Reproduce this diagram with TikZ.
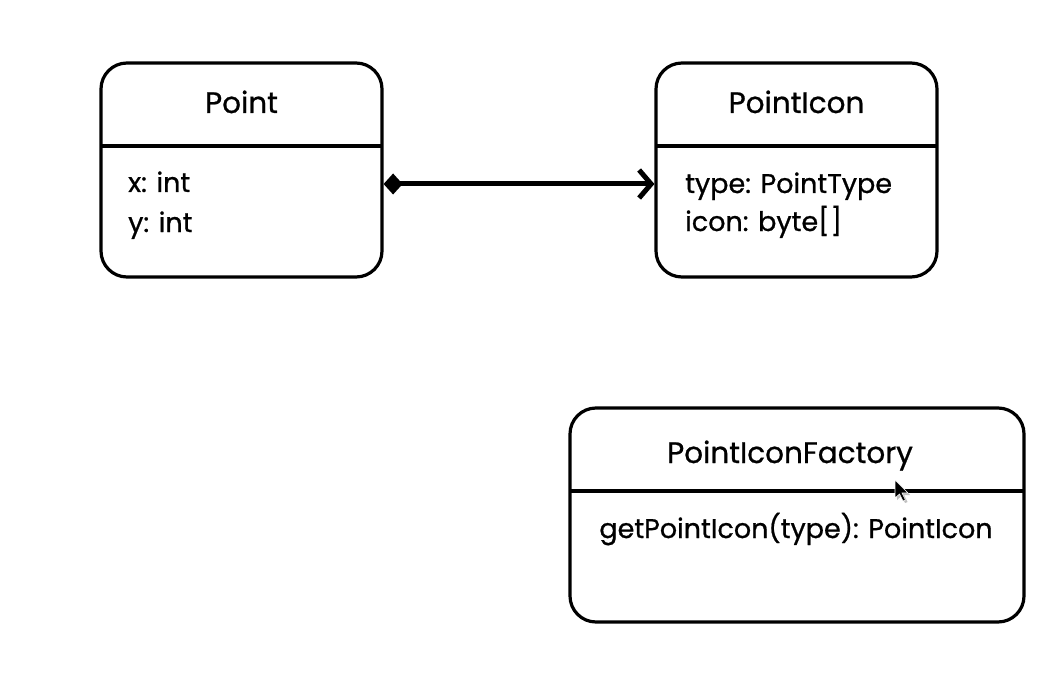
\documentclass[tikz,border=0pt]{standalone}
\usepackage{fontspec}
\setmainfont{Poppins}[BoldFont=Poppins, BoldFeatures={FakeBold=0.8}]
\usetikzlibrary{arrows.meta}
\begin{document}
\begin{tikzpicture}[x=1pt,y=-1pt,
  cls/.style={draw=black, line width=3.2pt, rounded corners=26pt, inner sep=0pt},
  divider/.style={draw=black, line width=3.2pt},
  ttl/.style={font=\fontsize{29.5}{34}\bfseries, anchor=base, inner sep=0pt},
  attr/.style={font=\fontsize{27}{32}\bfseries, anchor=base west, inner sep=0pt},
  meth/.style={font=\fontsize{27}{32}\bfseries, anchor=base, inner sep=0pt},
  assoc/.style={line width=5pt, {Diamond[length=19pt,width=21pt,line width=0pt]}-{Straight Barb[length=12pt,width=28pt,line width=5pt]}}
]
\useasboundingbox (0,0) rectangle (1062,695);

% Point
\node[cls, minimum width=281pt, minimum height=214pt] (point) at (241.5,170) {};
\coordinate (pdivL) at (101,146);
\coordinate (pdivR) at (382,146);
\draw[divider] (pdivL) -- (pdivR);
\node[ttl] (pointT) at (241.5,113) {Point};
\node[attr] (px) at (128,192) {x: int};
\node[attr] (py) at (128,232) {y: int};

% PointIcon
\node[cls, minimum width=281pt, minimum height=214pt] (icon) at (796.5,170) {};
\coordinate (idivL) at (656,146);
\coordinate (idivR) at (937,146);
\draw[divider] (idivL) -- (idivR);
\node[ttl] (iconT) at (796.5,113) {PointIcon};
\node[attr] (itype) at (685,193) {type: PointType};
\node[attr] (iicon) at (685,231) {icon: byte[\kern1pt]};

% PointIconFactory
\node[cls, minimum width=454pt, minimum height=214pt] (fac) at (797,515) {};
\coordinate (fdivL) at (570,491);
\coordinate (fdivR) at (1024,491);
\draw[divider] (fdivL) -- (fdivR);
\node[ttl] (facT) at (790,463) {PointIconFactory};
\node[meth] (facM) at (796,538) {getPointIcon(type): PointIcon};

% association
\coordinate (a1) at (point.east |- 0,184);
\coordinate (a2) at (icon.west |- 0,184);
\draw[assoc] (a1) -- (a2);

% mouse cursor
\fill[black!25, shift={(897,482)}] (0,0) -- (0,18) -- (4.5,14) -- (8,21) -- (10.5,20) -- (7,13) -- (13,13) -- cycle;
\fill[black, draw=white, line width=0.6pt, shift={(895,480)}] (0,0) -- (0,18) -- (4.5,14) -- (8,21) -- (10.5,20) -- (7,13) -- (13,13) -- cycle;
\end{tikzpicture}
\end{document}
